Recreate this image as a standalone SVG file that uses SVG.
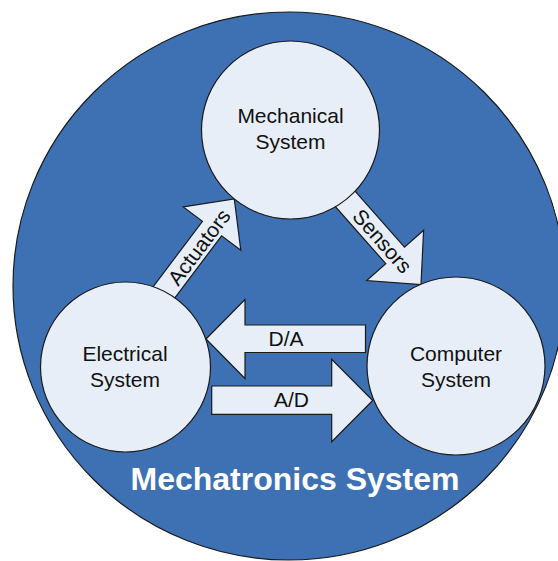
<svg xmlns="http://www.w3.org/2000/svg" width="558" height="561" viewBox="0 0 558 561">
<style>
.node{fill:#E8EEF7;stroke:#1a1a1a;stroke-width:1.2}
.arrow{fill:#E8EEF7;stroke:#1a1a1a;stroke-width:1.2;stroke-linejoin:miter}
.lbl{font-family:"Liberation Sans",Arial,sans-serif;font-size:21px;fill:#111;text-anchor:middle}
.title{font-family:"Liberation Sans",Arial,sans-serif;font-size:32px;font-weight:bold;fill:#fff;text-anchor:middle}
</style>
<rect width="558" height="561" fill="#fff"/>
<g id="mechatronics-system">
<ellipse cx="289" cy="286" rx="276" ry="274" fill="#3E71B3" stroke="#1a1a1a" stroke-width="1.2"/>
<text class="title" x="295" y="489.5">Mechatronics System</text>
</g>
<g id="connectors">
<g id="actuators">
<polygon class="arrow" points="-125,-12 -37,-12 -37,-36 0,0 -37,36 -37,12 -125,12" transform="translate(234.3,199) rotate(-53)"/>
<text class="lbl" x="0" y="7.5" transform="translate(199,247) rotate(-53)">Actuators</text>
</g>
<g id="sensors">
<polygon class="arrow" points="-125,-12.5 -39,-12.5 -39,-38 0,0 -39,38 -39,12.5 -125,12.5" transform="translate(421,284.6) rotate(48.5)"/>
<text class="lbl" x="0" y="7.5" transform="translate(382.5,241) rotate(48.5)">Sensors</text>
</g>
<g id="da">
<polygon class="arrow" points="206,339 245,299.5 245,325 365.5,325 365.5,352.5 245,352.5 245,378.5"/>
<text class="lbl" x="286" y="345.7">D/A</text>
</g>
<g id="ad">
<polygon class="arrow" points="211.7,386 331.7,386 331.7,359.3 372.7,400.5 331.7,441.7 331.7,414.3 211.7,414.3"/>
<text class="lbl" x="291.5" y="406.7">A/D</text>
</g>
</g>
<g id="mechanical">
<circle class="node" cx="290.5" cy="130" r="89"/>
<text class="lbl" x="290.5" y="123.3">Mechanical</text>
<text class="lbl" x="290.5" y="149.3">System</text>
</g>
<g id="electrical">
<circle class="node" cx="125.5" cy="367" r="85"/>
<text class="lbl" x="125" y="360.7">Electrical</text>
<text class="lbl" x="125" y="386.7">System</text>
</g>
<g id="computer">
<circle class="node" cx="456" cy="366" r="89"/>
<text class="lbl" x="456" y="360.7">Computer</text>
<text class="lbl" x="456" y="386.7">System</text>
</g>
</svg>
